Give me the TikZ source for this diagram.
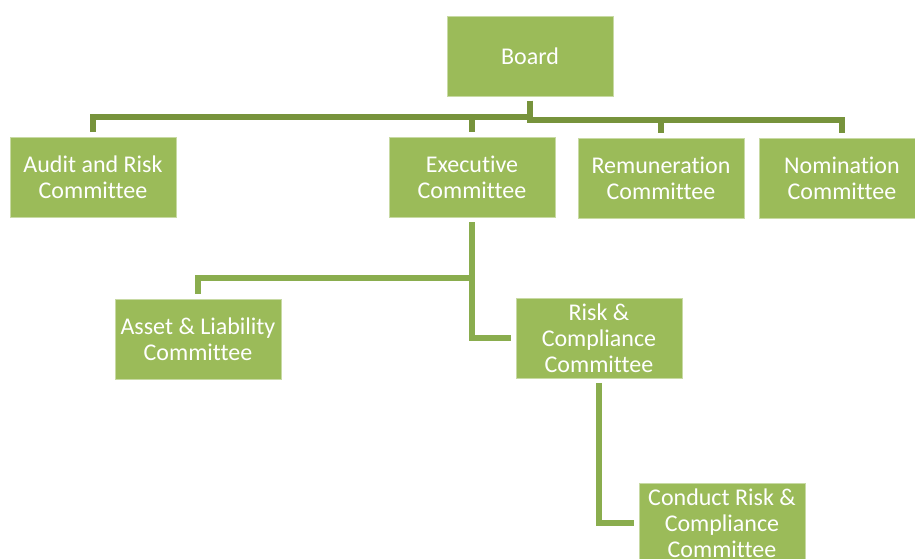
\documentclass[tikz,border=0pt]{standalone}
\usepackage{fontspec}
\setmainfont{Carlito}[Ligatures=NoCommon]
\usepackage{tikz}
\usetikzlibrary{positioning}
\definecolor{boxgreen}{HTML}{9BBB59}
\definecolor{linkdark}{HTML}{77933C}
\definecolor{linklight}{HTML}{8AAD4E}

\begin{document}
\begin{tikzpicture}[x=0.75pt, y=0.75pt,
      unit/.style={fill=boxgreen, draw=white!45!boxgreen, line width=0.5pt,
      minimum width=124.5pt, minimum height=60pt, inner sep=1pt, align=center,
      text=white, font=\fontsize{18}{19.5}\selectfont},
      toplink/.style={draw=linkdark, line width=4.5pt, shorten <=3.5pt,
      shorten >=3.5pt},
      sublink/.style={draw=linklight, line width=4.5pt, shorten <=3.5pt,
      shorten >=3.5pt} ]

    \useasboundingbox (0,0) rectangle (915,-559);

    % Board
    \node[unit] (board) at (530,-56) {Board};

    % Board committees
    \node[unit] (audit) at (93,-177) {Audit and Risk\\Committee};
    \node[unit] (exec) at (472,-177.5) {Executive\\Committee};
    \node[unit] (remun) at (661,-178.5) {Remuneration\\Committee};
    \node[unit] (nomin) at (842,-178.5) {Nomination\\Committee};

    % Executive sub-committees
    \node[unit] (alco) at (198,-339) {Asset \& Liability\\Committee};
    \node[unit] (riskcomp) at (599,-338) {Risk \&\\Compliance\\Committee};
    \node[unit] (conduct) at (722,-523) {Conduct Risk \&\\Compliance\\Committee};

    % Links from the board
    \draw[toplink] (board.south) -- ++(0,-21) -| (audit.north);
    \draw[toplink] (board.south) -- ++(0,-21) -| (exec.north);
    \draw[toplink] (board.south) -- ++(0,-24) -| (remun.north);
    \draw[toplink] (board.south) -- ++(0,-24) -| (nomin.north);

    % Links below the executive committee
    \draw[sublink] (exec.south) -- ++(0,-60) -| (alco.north);
    \draw[sublink] (exec.south) |- (riskcomp.west);
    \draw[sublink] (riskcomp.south) |- (conduct.west);

\end{tikzpicture}
\end{document}
